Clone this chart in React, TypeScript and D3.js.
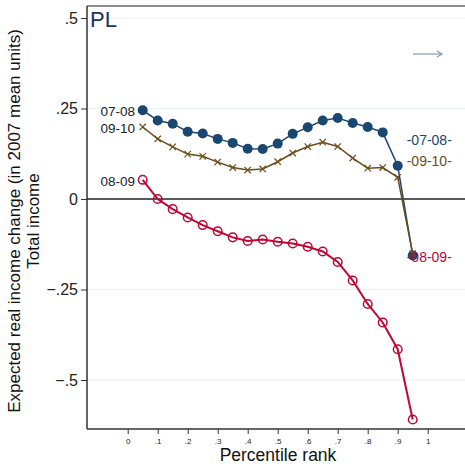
import { useEffect, useRef } from 'react'
import * as d3 from 'd3'

const ranks = [0.05, 0.1, 0.15, 0.2, 0.25, 0.3, 0.35, 0.4, 0.45, 0.5, 0.55, 0.6, 0.65, 0.7, 0.75, 0.8, 0.85, 0.9, 0.95]
const s0708 = [0.245, 0.217, 0.208, 0.186, 0.181, 0.166, 0.155, 0.139, 0.138, 0.153, 0.18, 0.198, 0.217, 0.224, 0.21, 0.199, 0.184, 0.092, -0.156]
const s0910 = [0.199, 0.166, 0.144, 0.124, 0.118, 0.102, 0.087, 0.08, 0.083, 0.103, 0.127, 0.145, 0.157, 0.145, 0.113, 0.085, 0.087, 0.06, -0.151]
const s0809 = [0.053, 0.0, -0.028, -0.051, -0.072, -0.089, -0.106, -0.116, -0.112, -0.118, -0.123, -0.132, -0.145, -0.174, -0.225, -0.29, -0.341, -0.415, -0.609]
const xTicks = [0, 0.1, 0.2, 0.3, 0.4, 0.5, 0.6, 0.7, 0.8, 0.9, 1]
const yTicks = [-0.5, -0.25, 0, 0.25, 0.5]
const seriesNames = ['07-08', '09-10', '08-09']

const NAVY = '#1a476f'
const BROWN = '#6b4d1c'
const RED = '#c10534'
const FONT = 'Liberation Sans, Arial, Helvetica, sans-serif'

const fmt = (v: number) => {
  if (v === 0) return '0'
  if (v === 1) return '1'
  return d3.format('.2~f')(v).replace('0.', '.')
}

export default function App() {
  const ref = useRef<SVGSVGElement>(null)

  useEffect(() => {
    const svg = d3.select(ref.current)
    svg.selectAll('*').remove()

    const left = 87, right = 465, top = 6, bottom = 429
    const x = d3.scaleLinear().domain([0, 1]).range([127.7, 427.7])
    const y = d3.scaleLinear().domain([-0.5, 0.5]).range([380, 18])

    svg.append('rect').attr('width', 465).attr('height', 464).attr('fill', '#fff')

    // gridlines
    svg.append('g').selectAll('line')
      .data(yTicks.filter(d => d !== 0))
      .enter().append('line')
      .attr('x1', left).attr('x2', right)
      .attr('y1', d => y(d)).attr('y2', d => y(d))
      .attr('stroke', '#eaf2f3').attr('stroke-width', 1.2)

    // frame
    svg.append('line').attr('x1', left).attr('x2', right).attr('y1', top).attr('y2', top)
      .attr('stroke', '#666').attr('stroke-width', 1.5)

    const yAxis = svg.append('g')
      .attr('transform', `translate(${left},0)`)
      .call(d3.axisLeft(y).tickValues(yTicks).tickFormat(d => fmt(+d)).tickSize(6).tickSizeOuter(0))
    yAxis.select('.domain').remove()
    yAxis.append('line').attr('x1', 0).attr('x2', 0).attr('y1', top).attr('y2', bottom)
      .attr('stroke', '#333').attr('stroke-width', 1.5)
    yAxis.selectAll('.tick line').attr('stroke', '#333')
    yAxis.selectAll('.tick text')
      .attr('font-family', FONT).attr('font-size', 16).attr('fill', '#222').attr('x', -9)

    const xAxis = svg.append('g')
      .attr('transform', `translate(0,${bottom})`)
      .call(d3.axisBottom(x).tickValues(xTicks).tickFormat(d => fmt(+d)).tickSize(5).tickSizeOuter(0))
    xAxis.select('.domain').remove()
    xAxis.append('line').attr('x1', left).attr('x2', right).attr('y1', 0).attr('y2', 0)
      .attr('stroke', '#333').attr('stroke-width', 1.5)
    xAxis.selectAll('.tick line').attr('stroke', '#333')
    xAxis.selectAll('.tick text')
      .attr('font-family', FONT).attr('font-size', 8).attr('fill', '#222').attr('y', 9)

    // zero line
    svg.append('line').attr('x1', left).attr('x2', right).attr('y1', y(0)).attr('y2', y(0))
      .attr('stroke', '#222').attr('stroke-width', 1.5)

    // axis titles
    svg.append('text').attr('x', 278).attr('y', 461)
      .attr('text-anchor', 'middle').attr('font-family', FONT).attr('font-size', 17.5).attr('fill', '#111')
      .text('Percentile rank')
    svg.append('text').attr('transform', 'translate(20,221) rotate(-90)')
      .attr('text-anchor', 'middle').attr('font-family', FONT).attr('font-size', 17).attr('fill', '#111')
      .text('Expected real income change (in 2007 mean units)')
    svg.append('text').attr('transform', 'translate(38.5,221) rotate(-90)')
      .attr('text-anchor', 'middle').attr('font-family', FONT).attr('font-size', 17).attr('fill', '#111')
      .text('Total income')

    // title
    svg.append('text').attr('x', 90).attr('y', 27)
      .attr('font-family', FONT).attr('font-size', 22).attr('fill', '#1a3561')
      .text('PL')

    // arrow
    svg.append('line').attr('x1', 413).attr('x2', 442).attr('y1', 54).attr('y2', 54)
      .attr('stroke', '#7f9bb3').attr('stroke-width', 1.2)
    svg.append('path').attr('d', 'M437,51 L442,54 L437,57')
      .attr('fill', 'none').attr('stroke', '#7f9bb3').attr('stroke-width', 1.2)

    const line = d3.line<number>().x((_, i) => x(ranks[i])).y(d => y(d))

    // 08-09 red hollow
    svg.append('path').datum(s0809).attr('d', line)
      .attr('fill', 'none').attr('stroke', RED).attr('stroke-width', 2)
    svg.append('g').selectAll('circle').data(s0809).enter().append('circle')
      .attr('cx', (_, i) => x(ranks[i])).attr('cy', d => y(d)).attr('r', 4.3)
      .attr('fill', 'none').attr('stroke', RED).attr('stroke-width', 1.5)

    // 07-08 navy solid
    svg.append('path').datum(s0708).attr('d', line)
      .attr('fill', 'none').attr('stroke', NAVY).attr('stroke-width', 1.5)
    svg.append('g').selectAll('circle').data(s0708).enter().append('circle')
      .attr('cx', (_, i) => x(ranks[i])).attr('cy', d => y(d)).attr('r', 5)
      .attr('fill', NAVY)

    // 09-10 brown x
    svg.append('path').datum(s0910).attr('d', line)
      .attr('fill', 'none').attr('stroke', BROWN).attr('stroke-width', 1.5)
    svg.append('g').selectAll('path').data(s0910).enter().append('path')
      .attr('d', (d, i) => {
        const cx = x(ranks[i]), cy = y(d), h = 3.2
        return `M${cx - h},${cy - h}L${cx + h},${cy + h}M${cx - h},${cy + h}L${cx + h},${cy - h}`
      })
      .attr('stroke', BROWN).attr('stroke-width', 1.2)

    // series labels
    const colors = [NAVY, BROWN, RED]
    const leftY = [111, 128, 181]
    const rightY = [140, 161, 257]
    seriesNames.forEach((name, k) => {
      svg.append('text').attr('x', 135).attr('y', leftY[k]).attr('dy', '0.35em')
        .attr('text-anchor', 'end').attr('font-family', FONT).attr('font-size', 13.5).attr('fill', '#222')
        .text(name)
      svg.append('text').attr('x', x(ranks[ranks.length - 1]) - 6).attr('y', rightY[k]).attr('dy', '0.35em')
        .attr('font-family', FONT).attr('font-size', 14).attr('fill', colors[k])
        .text(`-${name}-`)
    })
  }, [])

  return (
    <svg ref={ref} width={465} height={464} style={{ position: 'absolute', left: 0, top: 0 }} />
  )
}
